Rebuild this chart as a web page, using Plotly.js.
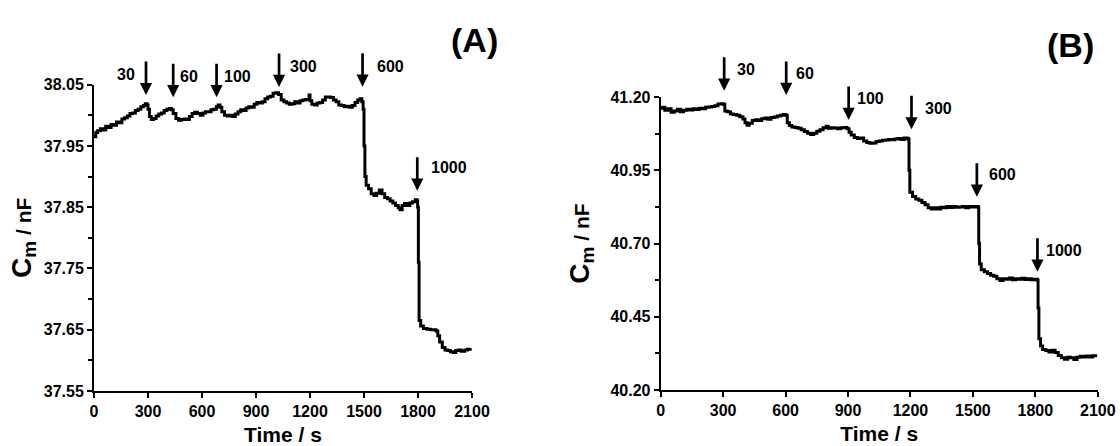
<!DOCTYPE html>
<html><head><meta charset="utf-8">
<script src="https://cdn.plot.ly/plotly-3.0.1.min.js"></script>
<style>html,body{margin:0;padding:0;background:#fff;}#chart{width:1120px;height:446px;}</style>
</head><body><div id="chart"></div>
<script>
// ---- Panel (A) data ----
const timeA = [0,10,20,35,50,65,80,95,110,125,140,155,170,185,200,215,230,245,260,275,285,295,300,308,318,330,345,360,375,390,405,420,430,440,455,470,485,500,515,530,545,560,575,590,605,620,635,650,665,680,690,700,710,725,740,755,770,785,800,815,830,845,860,875,890,905,920,935,950,965,980,995,1010,1025,1040,1055,1070,1085,1100,1115,1130,1145,1160,1175,1190,1195,1200,1210,1225,1240,1255,1270,1285,1300,1315,1330,1345,1360,1375,1390,1405,1420,1435,1450,1465,1478,1488,1495,1500,1505,1512,1525,1540,1555,1570,1585,1600,1615,1630,1645,1660,1675,1690,1700,1712,1725,1740,1755,1770,1785,1795,1798,1802,1806,1815,1830,1850,1870,1890,1900,1910,1920,1935,1950,1965,1980,1995,2010,2025,2040,2060,2075,2090];
const capA = [37.965,37.972,37.975,37.978,37.976,37.982,37.980,37.985,37.984,37.989,37.988,37.994,37.996,37.999,38.003,38.004,38.008,38.010,38.014,38.016,38.019,38.017,38.010,37.998,37.993,37.995,37.999,38.002,38.004,38.008,38.010,38.011,38.009,38.003,37.995,37.992,37.993,37.994,37.993,37.998,38.003,38.005,38.003,38.000,38.004,38.006,38.006,38.009,38.010,38.014,38.017,38.013,38.006,38.000,37.999,38.000,37.998,38.002,38.006,38.009,38.008,38.012,38.014,38.013,38.018,38.021,38.020,38.022,38.027,38.030,38.031,38.036,38.037,38.034,38.025,38.022,38.020,38.018,38.019,38.022,38.020,38.024,38.025,38.026,38.026,38.033,38.024,38.018,38.017,38.020,38.021,38.025,38.030,38.030,38.029,38.025,38.022,38.017,38.016,38.014,38.015,38.013,38.016,38.021,38.025,38.027,38.022,38.010,37.950,37.900,37.886,37.880,37.872,37.869,37.873,37.878,37.872,37.866,37.864,37.860,37.857,37.853,37.849,37.846,37.853,37.856,37.853,37.857,37.859,37.862,37.860,37.850,37.760,37.665,37.656,37.652,37.651,37.650,37.650,37.648,37.640,37.630,37.621,37.617,37.616,37.614,37.613,37.616,37.617,37.615,37.617,37.618,37.620];

// ---- Panel (B) data ----
const timeB = [0,10,20,35,50,65,80,95,110,125,140,155,170,185,200,215,230,245,260,275,290,300,308,320,335,350,365,380,395,405,415,425,440,455,470,485,500,515,530,545,560,575,590,600,608,618,630,645,660,675,690,705,720,735,750,765,780,795,805,820,835,850,865,880,895,905,915,930,945,960,975,990,1005,1020,1035,1050,1065,1080,1095,1110,1125,1140,1155,1170,1185,1190,1193,1197,1210,1225,1240,1255,1270,1285,1300,1315,1330,1345,1360,1375,1390,1405,1420,1435,1450,1465,1480,1495,1510,1525,1528,1532,1540,1555,1570,1585,1600,1615,1630,1645,1660,1675,1690,1705,1720,1735,1750,1765,1780,1795,1810,1813,1817,1825,1835,1850,1865,1880,1895,1910,1925,1940,1955,1970,1985,2000,2015,2030,2045,2060,2075,2090];
const capB = [41.162,41.165,41.155,41.160,41.148,41.152,41.158,41.150,41.155,41.158,41.156,41.160,41.157,41.162,41.160,41.165,41.166,41.168,41.170,41.176,41.177,41.175,41.152,41.150,41.142,41.140,41.138,41.133,41.125,41.112,41.104,41.110,41.120,41.122,41.120,41.126,41.128,41.124,41.130,41.132,41.135,41.138,41.140,41.138,41.112,41.103,41.098,41.096,41.093,41.088,41.082,41.076,41.072,41.076,41.083,41.088,41.095,41.100,41.093,41.095,41.094,41.092,41.095,41.096,41.092,41.080,41.070,41.062,41.058,41.060,41.050,41.045,41.042,41.043,41.048,41.050,41.052,41.053,41.055,41.054,41.057,41.058,41.055,41.060,41.058,41.056,40.950,40.875,40.860,40.852,40.848,40.840,40.832,40.822,40.818,40.822,40.818,40.824,40.822,40.826,40.823,40.826,40.824,40.825,40.826,40.822,40.826,40.825,40.826,40.824,40.700,40.630,40.610,40.604,40.598,40.592,40.588,40.580,40.574,40.580,40.578,40.582,40.576,40.580,40.578,40.581,40.577,40.580,40.576,40.578,40.575,40.480,40.375,40.350,40.338,40.335,40.330,40.336,40.328,40.318,40.310,40.305,40.312,40.310,40.304,40.312,40.315,40.313,40.316,40.313,40.317,40.312,40.311];

// ---- Additions (arrows) ----
const concLabels = ['30','60','100','300','600','1000'];
const addTimesA = [289, 440, 681, 1028, 1492, 1796];
const addTimesB = [305, 603, 903, 1205, 1519, 1810];

// arrow tip heights (fraction of each plot's height) and label placement
const tipA = [0.966, 0.959, 0.959, 0.9925, 0.9935, 0.654];
const tipB = [1.0215, 1.0068, 0.9215, 0.8898, 0.6597, 0.4038];
const labAnchorA = ['right','left','left','left','left','left'];
const labShiftA = [-9, 5, 5, 9, 12, 12];
const labYA = [1.032, 1.028, 1.026, 1.061, 1.059, 0.729];
const labAnchorB = ['left','left','left','left','left','left'];
const labShiftB = [11, 8, 6, 11, 10, 7];
const labYB = [1.0945, 1.0785, 0.9956, 0.9614, 0.7338, 0.4778];

const FONT = 'Arial, "Liberation Sans", Helvetica, sans-serif';
const black = '#000';
const NBSP = '\u00a0';

const traces = [
  {x: timeA, y: capA, xaxis: 'x', yaxis: 'y', mode: 'lines', line: {color: black, width: 3, shape: 'hv'}, hoverinfo: 'skip'},
  {x: timeB, y: capB, xaxis: 'x2', yaxis: 'y2', mode: 'lines', line: {color: black, width: 3, shape: 'hv'}, hoverinfo: 'skip'}
];

function xAxis(domain, anchor) {
  return {
    domain: domain, anchor: anchor, range: [0, 2100], tick0: 0, dtick: 300,
    ticks: 'outside', ticklen: 5, tickwidth: 2, tickcolor: black,
    showline: true, linecolor: black, linewidth: 2, showgrid: false, zeroline: false,
    tickfont: {family: FONT, size: 16, color: black, weight: 'bold'},
    title: {text: NBSP.repeat(5) + 'Time / s', font: {family: FONT, size: 21, color: black, weight: 'bold'}, standoff: 8},
    fixedrange: true
  };
}
function yAxis(domain, anchor, range, dtick, minorDtick, standoff) {
  return {
    domain: domain, anchor: anchor, range: range, tick0: range[0], dtick: dtick, tickformat: '.2f',
    ticks: 'outside', ticklen: 5, tickwidth: 2, tickcolor: black,
    minor: {tick0: range[0], dtick: minorDtick, ticks: 'outside', ticklen: 4, tickwidth: 2, tickcolor: black, showgrid: false},
    showline: true, linecolor: black, linewidth: 2, showgrid: false, zeroline: false,
    tickfont: {family: FONT, size: 16, color: black, weight: 'bold'},
    title: {text: '<span style="font-size:28px">C</span><sub><span style="font-size:19px">m</span></sub> / nF',
      font: {family: FONT, size: 21, color: black, weight: 'bold'}, standoff: standoff},
    fixedrange: true
  };
}

const annotations = [];
function addArrows(times, tips, anchors, shifts, labYs, xref, yref) {
  times.forEach((t, i) => {
    annotations.push({x: t, y: tips[i], xref: xref, yref: yref + ' domain', text: '', showarrow: true,
      arrowhead: 2, arrowsize: 0.9, arrowwidth: 2.7, arrowcolor: black, ax: 0, ay: -35, standoff: 0});
    annotations.push({x: t, y: labYs[i], xref: xref, yref: yref + ' domain', text: concLabels[i], showarrow: false,
      xanchor: anchors[i], yanchor: 'middle', xshift: shifts[i],
      font: {family: FONT, size: 16, color: black, weight: 'bold'}});
  });
}
addArrows(addTimesA, tipA, labAnchorA, labShiftA, labYA, 'x', 'y');
addArrows(addTimesB, tipB, labAnchorB, labShiftB, labYB, 'x2', 'y2');

annotations.push({x: 0.424, y: 0.910, xref: 'paper', yref: 'paper', text: '(A)', showarrow: false,
  xanchor: 'center', yanchor: 'middle', font: {family: FONT, size: 34, color: black, weight: 'bold'}});
annotations.push({x: 0.9554, y: 0.899, xref: 'paper', yref: 'paper', text: '(B)', showarrow: false,
  xanchor: 'center', yanchor: 'middle', font: {family: FONT, size: 34, color: black, weight: 'bold'}});

const layout = {
  width: 1120, height: 446,
  margin: {l: 0, r: 0, t: 0, b: 0},
  paper_bgcolor: '#fff', plot_bgcolor: '#fff',
  showlegend: false, hovermode: false,
  xaxis: xAxis([94/1120, 472/1120], 'y'),
  yaxis: yAxis([55/446, 361.3/446], 'x', [37.55, 38.05], 0.1, 0.05, 6),
  xaxis2: xAxis([660.7/1120, 1097.8/1120], 'y2'),
  yaxis2: yAxis([56/446, 349/446], 'x2', [40.20, 41.20], 0.25, 0.125, 15),
  annotations: annotations
};

Plotly.newPlot('chart', traces, layout, {displayModeBar: false, staticPlot: true});
</script>
</body></html>
